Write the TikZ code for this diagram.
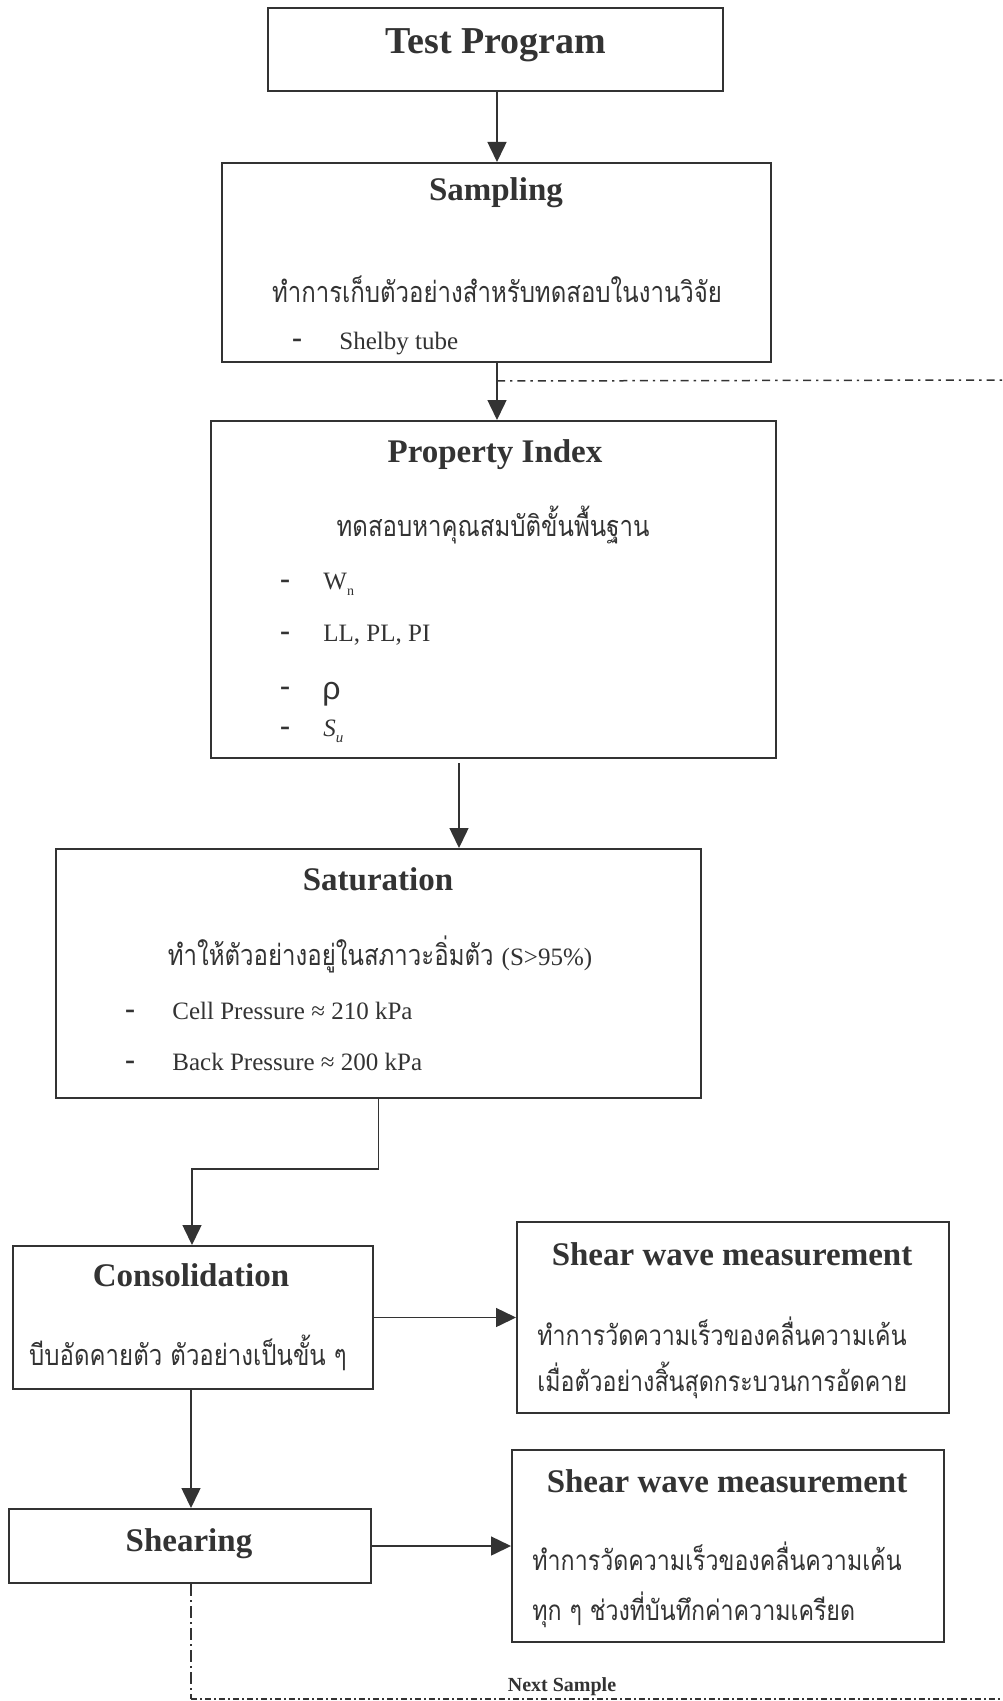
\documentclass[tikz,border=0pt]{standalone}
\usepackage{fontspec}
\usepackage{graphicx}
\setmainfont{Liberation Serif}
\newfontfamily\thaifont[Script=Thai]{Loma}
\newfontfamily\symsans{Liberation Sans}
\usetikzlibrary{arrows.meta}
\definecolor{ink}{HTML}{333333}
\newcommand{\tall}[1]{\scalebox{1}[1.2]{#1}}
\begin{document}
\begin{tikzpicture}[x=0.5pt,y=-0.5pt,
  boxst/.style={draw=ink, line width=1pt, inner sep=0pt, rectangle},
  ttl/.style={font=\fontsize{16.5}{18}\selectfont\bfseries, text=ink, inner sep=0pt, text height=0.66em, text depth=0pt},
  bigttl/.style={ttl, font=\fontsize{19}{21}\selectfont\bfseries},
  smallttl/.style={ttl, font=\fontsize{10}{12}\selectfont\bfseries},
  txt/.style={font=\fontsize{12.5}{14}\selectfont, text=ink, inner sep=0pt, text height=0.66em, text depth=0pt},
  th/.style={font=\thaifont\fontsize{12}{14}\selectfont, text=ink, inner sep=0pt, text height=0.54em, text depth=0pt},
  ths/.style={th, font=\thaifont\fontsize{11.6}{14}\selectfont},
  bul/.style={font=\fontsize{15}{16}\selectfont\bfseries, text=ink, inner sep=0pt, text height=0.5em, text depth=0pt},
  arr/.style={draw=ink, line width=0.75pt, -{Triangle[width=9.5pt,length=10pt]}},
  ddA/.style={draw=ink, line width=0.75pt, dash pattern=on 4pt off 2.5pt on 1.2pt off 2.5pt},
  ddB/.style={draw=ink, line width=0.75pt, dash pattern=on 6pt off 2pt on 1pt off 2pt},
  ddC/.style={draw=ink, line width=0.75pt, dash pattern=on 3pt off 1.5pt on 1pt off 1.5pt}
]
\path[use as bounding box, fill=white] (0,0) rectangle (1002,1701);

% boxes
\node[boxst, minimum width=227.5pt, minimum height=41.5pt] (test) at (495.5,49.5) {};
\node[boxst, minimum width=274.5pt, minimum height=99.5pt] (samp) at (496.5,262.5) {};
\node[boxst, minimum width=282.5pt, minimum height=168.5pt] (prop) at (493.5,589.5) {};
\node[boxst, minimum width=322.5pt, minimum height=124.5pt] (sat) at (378.5,973.5) {};
\node[boxst, minimum width=180pt, minimum height=71.5pt] (cons) at (193,1317.5) {};
\node[boxst, minimum width=216pt, minimum height=95.5pt] (sw1) at (733,1317.5) {};
\node[boxst, minimum width=181pt, minimum height=37pt] (shear) at (190,1546) {};
\node[boxst, minimum width=216pt, minimum height=96pt] (sw2) at (728,1546) {};

% Test Program
\node[bigttl] (t1) at (496,47) {Test Program};

% Sampling
\node[ttl] (t2) at (496,194) {Sampling};
\node[th] (t2a) at (497,297) {\tall{ทำการเก็บตัวอย่างสำหรับทดสอบในงานวิจัย}};
\node[bul] (t2b) at (297,343) {-};
\node[txt, anchor=west] (t2c) at (339,343) {Shelby tube};

% Property Index
\node[ttl] (t3) at (495,456) {Property Index};
\node[th] (t3a) at (493,531) {\tall{ทดสอบหาคุณสมบัติขั้นพื้นฐาน}};
\node[bul] (t3b1) at (285,583) {-};
\node[txt, anchor=west] (t3c1) at (323,583) {W\raisebox{-0.55ex}{\fontsize{7}{8}\selectfont n}};
\node[bul] (t3b2) at (285,635) {-};
\node[txt, anchor=west] (t3c2) at (323,635) {LL, PL, PI};
\node[bul] (t3b3) at (285,690) {-};
\node[txt, anchor=west, font=\symsans\fontsize{16}{18}\selectfont, text height=0.5em] (t3c3) at (322,694) {ρ};
\node[bul] (t3b4) at (285,730) {-};
\node[txt, anchor=west] (t3c4) at (323,730) {\textit{S}\raisebox{-0.55ex}{\fontsize{7.5}{8}\selectfont\itshape u}};

% Saturation
\node[ttl] (t4) at (378,884) {Saturation};
\node[th] (t4a) at (380,960) {\tall{ทำให้ตัวอย่างอยู่ในสภาวะอิ่มตัว} {\rmfamily\fontsize{12.5}{14}\selectfont (S>95\%)}};
\node[bul] (t4b1) at (130,1013) {-};
\node[txt, anchor=west] (t4c1) at (172,1013) {Cell Pressure ≈ 210 kPa};
\node[bul] (t4b2) at (130,1064) {-};
\node[txt, anchor=west] (t4c2) at (172,1064) {Back Pressure ≈ 200 kPa};

% Consolidation
\node[ttl] (t5) at (191,1280) {Consolidation};
\node[th] (t5a) at (188,1360) {\tall{บีบอัดคายตัว ตัวอย่างเป็นขั้น ๆ}};

% Shear wave 1
\node[ttl] (t6) at (732,1259) {Shear wave measurement};
\node[ths, anchor=west] (t6a) at (537,1340) {\tall{ทำการวัดความเร็วของคลื่นความเค้น}};
\node[ths, anchor=west] (t6b) at (537,1386) {\tall{เมื่อตัวอย่างสิ้นสุดกระบวนการอัดคาย}};

% Shearing
\node[ttl] (t7) at (189,1545) {Shearing};

% Shear wave 2
\node[ttl] (t8) at (727,1486) {Shear wave measurement};
\node[ths, anchor=west] (t8a) at (532,1565) {\tall{ทำการวัดความเร็วของคลื่นความเค้น}};
\node[ths, anchor=west] (t8b) at (532,1615) {\tall{ทุก ๆ ช่วงที่บันทึกค่าความเครียด}};

% Next sample
\node[smallttl] (t9) at (562,1685) {Next Sample};

% coordinates
\coordinate (ne) at (1002,380);
\coordinate (pa) at (459,763);
\coordinate (bendy) at (0,1169);
\coordinate (se) at (1002,1699);

% connectors
\draw[arr] (test.south -| 497,0) -- (samp.north -| 497,0);
\draw[arr] (samp.south -| 497,0) -- (prop.north -| 497,0);
\draw[ddA] (samp.south -| 497,0) ++(0,18) -- (ne);
\draw[arr] (pa) -- (pa |- sat.north);
\draw[arr] (sat.south) -- (sat.south |- bendy) -| (cons.north -| 192,0);
\draw[arr] (cons.east) -- (sw1.west);
\draw[arr] (cons.south -| 191,0) -- (shear.north -| 191,0);
\draw[arr] (shear.east) -- (shear.east -| sw2.west);
\draw[ddB] (shear.south -| 191,0) -- (se -| 191,0);
\draw[ddC] (se -| 191,0) -- (se);
\end{tikzpicture}
\end{document}
